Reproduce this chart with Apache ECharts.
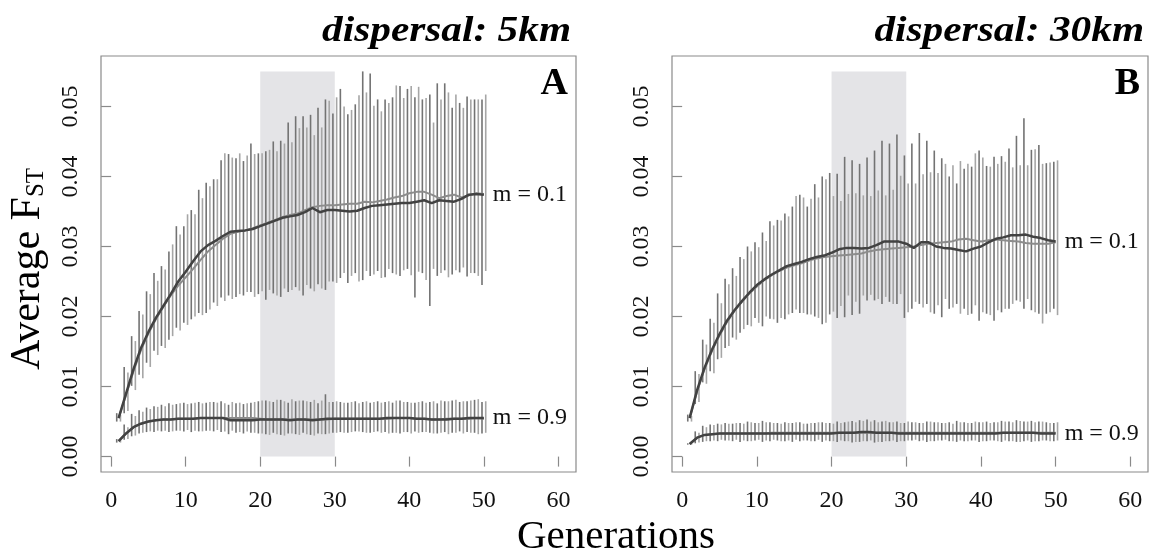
<!DOCTYPE html>
<html>
<head>
<meta charset="utf-8">
<script src="https://cdn.jsdelivr.net/npm/echarts@6/dist/echarts.min.js"></script>
<style>
  html, body { margin: 0; padding: 0; background: #ffffff; }
  #chart { width: 1150px; height: 558px; }
</style>
</head>
<body>
<div id="chart"></div>
<script>
// Generations simulated (x values)
const generations = [
  1,2,3,4,5,6,7,8,9,10,11,12,13,14,15,16,17,18,19,20,21,22,23,24,25,
  26,27,28,29,30,31,32,33,34,35,36,37,38,39,40,41,42,43,44,45,46,47,48,49,50
];

const xTicks = [0, 10, 20, 30, 40, 50, 60];
const yTicks = [0, 0.01, 0.02, 0.03, 0.04, 0.05];
const panelTitles = ['dispersal: 5km', 'dispersal: 30km'];
const panelLetters = ['A', 'B'];
const migrationLabels = ['m = 0.1', 'm = 0.9'];
const xAxisTitle = 'Generations';
// Highlighted window of generations
const shadeWindow = [20, 30, 0, 0.055];

// ---------- Panel A (dispersal 5 km) ----------
// m = 0.1, first run (dark)
const a01DarkMean = [
  0.0055,0.0090,0.0125,0.0155,0.0178,0.0198,0.0215,0.0232,0.0250,0.0264,
  0.0279,0.0293,0.0302,0.0308,0.0315,0.0321,0.0322,0.0323,0.0325,0.0329,
  0.0333,0.0337,0.0341,0.0343,0.0345,0.0349,0.0355,0.0349,0.0352,0.0352,
  0.0351,0.0350,0.0351,0.0355,0.0358,0.0359,0.0360,0.0361,0.0362,0.0362,
  0.0364,0.0366,0.0362,0.0366,0.0365,0.0364,0.0368,0.0374,0.0375,0.0374
];
const a01DarkHi = [
  0.0062,0.0128,0.0172,0.0208,0.0236,0.0262,0.0272,0.0293,0.0329,0.0329,
  0.0352,0.0381,0.0391,0.0396,0.0423,0.0432,0.0426,0.0422,0.0447,0.0433,
  0.0436,0.0450,0.0451,0.0477,0.0486,0.0486,0.0488,0.0498,0.0510,0.0490,
  0.0525,0.0489,0.0503,0.0550,0.0547,0.0510,0.0510,0.0513,0.0529,0.0525,
  0.0513,0.0510,0.0517,0.0533,0.0533,0.0498,0.0505,0.0514,0.0510,0.0510
];
const a01DarkLo = [
  0.0050,0.0062,0.0101,0.0117,0.0134,0.0151,0.0158,0.0167,0.0184,0.0191,
  0.0196,0.0205,0.0205,0.0220,0.0227,0.0230,0.0228,0.0230,0.0235,0.0232,
  0.0224,0.0233,0.0228,0.0235,0.0242,0.0230,0.0240,0.0246,0.0238,0.0250,
  0.0255,0.0248,0.0262,0.0252,0.0258,0.0265,0.0256,0.0262,0.0258,0.0268,
  0.0227,0.0262,0.0215,0.0258,0.0266,0.0260,0.0263,0.0257,0.0262,0.0245
];
// m = 0.1, second run (light)
const a01LightMean = [
  0.0055,0.0088,0.0122,0.0152,0.0176,0.0196,0.0214,0.0230,0.0244,0.0256,
  0.0268,0.0281,0.0293,0.0302,0.0311,0.0318,0.0321,0.0323,0.0326,0.0330,
  0.0334,0.0338,0.0342,0.0345,0.0347,0.0352,0.0356,0.0358,0.0359,0.0359,
  0.0360,0.0361,0.0361,0.0364,0.0363,0.0365,0.0367,0.0370,0.0372,0.0376,
  0.0378,0.0378,0.0374,0.0369,0.0372,0.0374,0.0370,0.0373,0.0376,0.0375
];
const a01LightHi = [
  0.0060,0.0120,0.0165,0.0203,0.0232,0.0251,0.0267,0.0303,0.0317,0.0346,
  0.0346,0.0369,0.0386,0.0396,0.0433,0.0427,0.0433,0.0430,0.0432,0.0433,
  0.0438,0.0436,0.0447,0.0449,0.0469,0.0470,0.0459,0.0470,0.0508,0.0513,
  0.0500,0.0495,0.0516,0.0520,0.0501,0.0493,0.0505,0.0530,0.0512,0.0529,
  0.0528,0.0512,0.0477,0.0510,0.0520,0.0517,0.0498,0.0510,0.0510,0.0517
];
const a01LightLo = [
  0.0050,0.0065,0.0095,0.0112,0.0128,0.0145,0.0155,0.0172,0.0180,0.0188,
  0.0200,0.0202,0.0210,0.0215,0.0222,0.0225,0.0232,0.0235,0.0228,0.0236,
  0.0238,0.0230,0.0240,0.0238,0.0237,0.0245,0.0236,0.0240,0.0250,0.0248,
  0.0262,0.0258,0.0250,0.0265,0.0260,0.0255,0.0268,0.0260,0.0266,0.0259,
  0.0264,0.0252,0.0268,0.0262,0.0256,0.0266,0.0270,0.0262,0.0258,0.0265
];
// m = 0.9, first run (dark)
const a09DarkMean = [
  0.0022,0.0033,0.0042,0.0047,0.0050,0.0052,0.0053,0.0053,0.0054,0.0054,
  0.0054,0.0055,0.0055,0.0055,0.0055,0.0052,0.0052,0.0052,0.0052,0.0053,
  0.0053,0.0053,0.0053,0.0052,0.0053,0.0053,0.0052,0.0053,0.0054,0.0054,
  0.0054,0.0054,0.0054,0.0054,0.0054,0.0054,0.0055,0.0055,0.0055,0.0055,
  0.0054,0.0054,0.0053,0.0053,0.0053,0.0054,0.0054,0.0055,0.0055,0.0055
];
const a09DarkHi = [
  0.0025,0.0046,0.0061,0.0066,0.0070,0.0072,0.0074,0.0076,0.0075,0.0077,
  0.0076,0.0078,0.0077,0.0078,0.0079,0.0074,0.0076,0.0075,0.0077,0.0079,
  0.0080,0.0078,0.0081,0.0077,0.0079,0.0080,0.0078,0.0076,0.0089,0.0078,
  0.0078,0.0077,0.0079,0.0078,0.0077,0.0079,0.0078,0.0077,0.0080,0.0078,
  0.0077,0.0079,0.0078,0.0076,0.0079,0.0080,0.0078,0.0079,0.0081,0.0078
];
const a09DarkLo = [
  0.0020,0.0024,0.0029,0.0033,0.0035,0.0035,0.0036,0.0035,0.0037,0.0036,
  0.0035,0.0036,0.0037,0.0036,0.0035,0.0032,0.0034,0.0033,0.0034,0.0033,
  0.0032,0.0034,0.0031,0.0033,0.0032,0.0034,0.0031,0.0033,0.0032,0.0034,
  0.0035,0.0034,0.0036,0.0035,0.0034,0.0036,0.0035,0.0034,0.0033,0.0035,
  0.0036,0.0035,0.0034,0.0033,0.0035,0.0034,0.0036,0.0035,0.0034,0.0033
];
// m = 0.9, second run (light)
const a09LightMean = [
  0.0022,0.0033,0.0042,0.0047,0.0050,0.0052,0.0053,0.0053,0.0054,0.0054,
  0.0054,0.0055,0.0055,0.0055,0.0055,0.0055,0.0055,0.0055,0.0055,0.0054,
  0.0053,0.0053,0.0053,0.0053,0.0053,0.0053,0.0053,0.0053,0.0053,0.0054,
  0.0054,0.0054,0.0054,0.0054,0.0054,0.0054,0.0054,0.0055,0.0055,0.0055,
  0.0054,0.0054,0.0053,0.0053,0.0054,0.0054,0.0054,0.0054,0.0055,0.0054
];
const a09LightHi = [
  0.0024,0.0042,0.0058,0.0064,0.0068,0.0071,0.0072,0.0074,0.0076,0.0075,
  0.0077,0.0076,0.0078,0.0077,0.0076,0.0078,0.0077,0.0076,0.0078,0.0080,
  0.0079,0.0081,0.0079,0.0082,0.0080,0.0079,0.0081,0.0080,0.0078,0.0079,
  0.0077,0.0078,0.0076,0.0079,0.0078,0.0077,0.0079,0.0080,0.0078,0.0077,
  0.0078,0.0077,0.0079,0.0080,0.0079,0.0081,0.0079,0.0080,0.0082,0.0079
];
const a09LightLo = [
  0.0020,0.0025,0.0030,0.0034,0.0036,0.0037,0.0037,0.0036,0.0037,0.0038,
  0.0037,0.0036,0.0037,0.0038,0.0036,0.0037,0.0035,0.0036,0.0034,0.0033,
  0.0031,0.0032,0.0030,0.0033,0.0031,0.0032,0.0030,0.0032,0.0033,0.0034,
  0.0034,0.0035,0.0036,0.0034,0.0035,0.0034,0.0033,0.0034,0.0035,0.0033,
  0.0034,0.0035,0.0033,0.0034,0.0032,0.0034,0.0033,0.0034,0.0032,0.0034
];

// ---------- Panel B (dispersal 30 km) ----------
const b01DarkMean = [
  0.0055,0.0095,0.0127,0.0153,0.0175,0.0194,0.0209,0.0222,0.0234,0.0245,
  0.0253,0.0260,0.0266,0.0272,0.0275,0.0278,0.0282,0.0285,0.0287,0.0291,
  0.0296,0.0298,0.0298,0.0297,0.0298,0.0302,0.0307,0.0307,0.0307,0.0304,
  0.0298,0.0306,0.0306,0.0300,0.0298,0.0297,0.0295,0.0293,0.0297,0.0300,
  0.0306,0.0311,0.0313,0.0316,0.0316,0.0317,0.0314,0.0312,0.0309,0.0307
];
const b01DarkHi = [
  0.0060,0.0122,0.0167,0.0197,0.0233,0.0254,0.0269,0.0285,0.0300,0.0306,
  0.0320,0.0336,0.0338,0.0347,0.0357,0.0374,0.0357,0.0389,0.0400,0.0405,
  0.0404,0.0428,0.0423,0.0418,0.0427,0.0437,0.0451,0.0447,0.0460,0.0430,
  0.0447,0.0462,0.0451,0.0437,0.0426,0.0400,0.0390,0.0411,0.0414,0.0437,
  0.0415,0.0428,0.0429,0.0440,0.0458,0.0483,0.0438,0.0445,0.0419,0.0421
];
const b01DarkLo = [
  0.0050,0.0075,0.0106,0.0122,0.0139,0.0155,0.0170,0.0177,0.0188,0.0198,
  0.0186,0.0197,0.0191,0.0196,0.0205,0.0205,0.0203,0.0200,0.0189,0.0203,
  0.0198,0.0199,0.0202,0.0204,0.0223,0.0223,0.0218,0.0221,0.0218,0.0198,
  0.0211,0.0218,0.0218,0.0204,0.0199,0.0211,0.0218,0.0211,0.0204,0.0194,
  0.0204,0.0194,0.0206,0.0211,0.0223,0.0211,0.0209,0.0204,0.0204,0.0211
];
const b01LightMean = [
  0.0055,0.0093,0.0125,0.0151,0.0173,0.0192,0.0208,0.0221,0.0233,0.0243,
  0.0252,0.0259,0.0265,0.0270,0.0273,0.0276,0.0280,0.0283,0.0285,0.0286,
  0.0287,0.0288,0.0289,0.0290,0.0293,0.0295,0.0296,0.0297,0.0298,0.0299,
  0.0300,0.0302,0.0304,0.0305,0.0306,0.0307,0.0310,0.0311,0.0309,0.0307,
  0.0309,0.0310,0.0309,0.0308,0.0307,0.0305,0.0304,0.0304,0.0304,0.0306
];
const b01LightHi = [
  0.0058,0.0118,0.0160,0.0191,0.0219,0.0246,0.0258,0.0282,0.0293,0.0299,
  0.0308,0.0330,0.0337,0.0343,0.0372,0.0370,0.0368,0.0370,0.0396,0.0372,
  0.0365,0.0375,0.0376,0.0373,0.0372,0.0380,0.0373,0.0381,0.0401,0.0390,
  0.0390,0.0403,0.0406,0.0405,0.0418,0.0416,0.0422,0.0418,0.0433,0.0427,
  0.0414,0.0418,0.0421,0.0413,0.0416,0.0416,0.0439,0.0418,0.0420,0.0423
];
const b01LightLo = [
  0.0050,0.0078,0.0104,0.0119,0.0141,0.0158,0.0167,0.0182,0.0186,0.0191,
  0.0200,0.0196,0.0198,0.0203,0.0210,0.0205,0.0203,0.0198,0.0191,0.0207,
  0.0215,0.0230,0.0221,0.0230,0.0231,0.0225,0.0228,0.0218,0.0232,0.0206,
  0.0221,0.0213,0.0206,0.0216,0.0225,0.0213,0.0204,0.0202,0.0216,0.0206,
  0.0202,0.0209,0.0211,0.0218,0.0221,0.0225,0.0206,0.0190,0.0206,0.0202
];
const b09DarkMean = [
  0.0018,0.0027,0.0031,0.0032,0.0033,0.0033,0.0033,0.0033,0.0033,0.0033,
  0.0033,0.0033,0.0033,0.0033,0.0033,0.0033,0.0033,0.0033,0.0033,0.0033,
  0.0034,0.0034,0.0034,0.0035,0.0035,0.0034,0.0034,0.0034,0.0033,0.0033,
  0.0033,0.0033,0.0033,0.0033,0.0033,0.0033,0.0033,0.0033,0.0033,0.0033,
  0.0033,0.0033,0.0034,0.0034,0.0034,0.0034,0.0034,0.0033,0.0033,0.0033
];
const b09DarkHi = [
  0.0019,0.0036,0.0044,0.0046,0.0047,0.0048,0.0047,0.0048,0.0050,0.0048,
  0.0051,0.0049,0.0048,0.0049,0.0048,0.0049,0.0047,0.0048,0.0049,0.0048,
  0.0050,0.0049,0.0051,0.0052,0.0053,0.0052,0.0050,0.0049,0.0050,0.0048,
  0.0049,0.0048,0.0050,0.0049,0.0048,0.0049,0.0051,0.0049,0.0048,0.0049,
  0.0050,0.0049,0.0051,0.0050,0.0052,0.0050,0.0051,0.0050,0.0049,0.0048
];
const b09DarkLo = [
  0.0017,0.0019,0.0021,0.0022,0.0022,0.0023,0.0022,0.0021,0.0022,0.0023,
  0.0021,0.0022,0.0023,0.0022,0.0021,0.0022,0.0023,0.0022,0.0021,0.0022,
  0.0021,0.0022,0.0020,0.0021,0.0022,0.0020,0.0021,0.0022,0.0021,0.0022,
  0.0023,0.0022,0.0021,0.0022,0.0023,0.0022,0.0021,0.0022,0.0023,0.0021,
  0.0022,0.0023,0.0021,0.0022,0.0021,0.0022,0.0021,0.0022,0.0023,0.0022
];
const b09LightMean = [
  0.0018,0.0027,0.0031,0.0032,0.0033,0.0033,0.0033,0.0033,0.0033,0.0033,
  0.0033,0.0034,0.0034,0.0034,0.0034,0.0034,0.0034,0.0034,0.0034,0.0034,
  0.0034,0.0034,0.0034,0.0034,0.0034,0.0034,0.0034,0.0034,0.0034,0.0034,
  0.0034,0.0034,0.0034,0.0034,0.0034,0.0034,0.0034,0.0034,0.0034,0.0034,
  0.0034,0.0034,0.0034,0.0034,0.0034,0.0034,0.0034,0.0034,0.0034,0.0034
];
const b09LightHi = [
  0.0019,0.0034,0.0042,0.0045,0.0046,0.0047,0.0048,0.0047,0.0049,0.0048,
  0.0049,0.0048,0.0047,0.0048,0.0049,0.0047,0.0048,0.0049,0.0048,0.0047,
  0.0048,0.0050,0.0049,0.0051,0.0050,0.0049,0.0051,0.0049,0.0048,0.0050,
  0.0049,0.0048,0.0050,0.0049,0.0048,0.0047,0.0049,0.0048,0.0050,0.0049,
  0.0048,0.0049,0.0050,0.0049,0.0051,0.0050,0.0049,0.0050,0.0048,0.0049
];
const b09LightLo = [
  0.0017,0.0020,0.0022,0.0023,0.0024,0.0023,0.0024,0.0023,0.0022,0.0024,
  0.0023,0.0024,0.0022,0.0023,0.0024,0.0023,0.0022,0.0024,0.0023,0.0022,
  0.0023,0.0022,0.0021,0.0022,0.0023,0.0021,0.0022,0.0023,0.0022,0.0023,
  0.0024,0.0023,0.0022,0.0023,0.0024,0.0022,0.0023,0.0022,0.0023,0.0022,
  0.0023,0.0022,0.0023,0.0022,0.0021,0.0023,0.0022,0.0023,0.0022,0.0023
];

const SERIF = '"Liberation Serif", "Times New Roman", serif';
const BOX = '#8a8a8a';
const BAR_DARK = '#737373';
const BAR_LIGHT = '#a6a6a6';
const LINE_DARK = '#424242';
const LINE_LIGHT = '#8c8c8c';

// Error bars as thin vertical segments; each run sits a quarter generation off its generation
function errorBars(panel, lo, hi, shift, color) {
  return {
    type: 'custom', xAxisIndex: panel, yAxisIndex: panel, z: 3,
    silent: true, animation: false, clip: true,
    data: generations.map((g, i) => [g + shift, lo[i], hi[i]]),
    encode: { x: 0, y: [1, 2] },
    renderItem: (params, api) => {
      const p1 = api.coord([api.value(0), api.value(1)]);
      const p2 = api.coord([api.value(0), api.value(2)]);
      return {
        type: 'line',
        shape: { x1: p1[0], y1: p1[1], x2: p2[0], y2: p2[1] },
        style: { stroke: color, lineWidth: 1.6 }
      };
    }
  };
}

function meanLine(panel, mean, color, width, z, label) {
  const s = {
    type: 'line', xAxisIndex: panel, yAxisIndex: panel, z: z,
    silent: true, animation: false, showSymbol: false, symbol: 'none',
    data: generations.map((g, i) => [g, mean[i]]),
    lineStyle: { color: color, width: width }
  };
  if (label) {
    s.endLabel = {
      show: true, formatter: label, distance: 9,
      fontFamily: SERIF, fontSize: 24, color: '#111111'
    };
  }
  return s;
}

function shadeSeries(panel) {
  return {
    type: 'custom', xAxisIndex: panel, yAxisIndex: panel, z: 1,
    silent: true, animation: false,
    data: [shadeWindow],
    renderItem: (params, api) => {
      const tl = api.coord([api.value(0), api.value(3)]);
      const br = api.coord([api.value(1), api.value(2)]);
      return {
        type: 'rect',
        shape: { x: tl[0], y: tl[1], width: br[0] - tl[0], height: br[1] - tl[1] },
        style: { fill: '#e4e4e7' }
      };
    }
  };
}

function xAxisDef(panel) {
  return {
    type: 'value', gridIndex: panel, min: -1.36, max: 62.36,
    axisLine: { show: false },
    splitLine: { show: false },
    axisTick: { show: true, length: 10, customValues: xTicks, lineStyle: { color: BOX, width: 1.2 } },
    axisLabel: { customValues: xTicks, margin: 17, fontFamily: SERIF, fontSize: 24, color: '#111111' }
  };
}

function yAxisDef(panel) {
  return {
    type: 'value', gridIndex: panel, min: -0.0022, max: 0.0572,
    axisLine: { show: false },
    splitLine: { show: false },
    axisTick: { show: true, length: 10, customValues: yTicks, lineStyle: { color: BOX, width: 1.2 } },
    axisLabel: {
      customValues: yTicks, rotate: 90, margin: 18,
      fontFamily: SERIF, fontSize: 24, color: '#111111',
      formatter: (v) => v.toFixed(2)
    }
  };
}

const chart = echarts.init(document.getElementById('chart'), null, { renderer: 'canvas' });

const series = [];
const panels = [
  [a01DarkMean, a01DarkLo, a01DarkHi, a01LightMean, a01LightLo, a01LightHi,
   a09DarkMean, a09DarkLo, a09DarkHi, a09LightMean, a09LightLo, a09LightHi],
  [b01DarkMean, b01DarkLo, b01DarkHi, b01LightMean, b01LightLo, b01LightHi,
   b09DarkMean, b09DarkLo, b09DarkHi, b09LightMean, b09LightLo, b09LightHi]
];
panels.forEach((d, p) => {
  series.push(shadeSeries(p));
  series.push(errorBars(p, d[1], d[2], -0.25, BAR_DARK));
  series.push(errorBars(p, d[4], d[5], 0.25, BAR_LIGHT));
  series.push(errorBars(p, d[7], d[8], -0.25, BAR_DARK));
  series.push(errorBars(p, d[10], d[11], 0.25, BAR_LIGHT));
  series.push(meanLine(p, d[3], LINE_LIGHT, 2, 5, null));
  series.push(meanLine(p, d[9], LINE_LIGHT, 2, 5, null));
  series.push(meanLine(p, d[0], LINE_DARK, 2.5, 6, migrationLabels[0]));
  series.push(meanLine(p, d[6], LINE_DARK, 2.5, 6, migrationLabels[1]));
});

const titleStyle = {
  fontFamily: SERIF, fontStyle: 'italic', fontWeight: 'bold', fontSize: 35,
  fill: '#000', align: 'right', verticalAlign: 'middle'
};
const letterStyle = {
  fontFamily: SERIF, fontWeight: 'bold', fontSize: 38,
  fill: '#000', align: 'right', verticalAlign: 'middle'
};

const option = {
  animation: false,
  backgroundColor: '#ffffff',
  grid: [
    { left: 101, top: 56, width: 475, height: 416, show: true, borderColor: BOX, borderWidth: 1.2, backgroundColor: 'transparent' },
    { left: 672, top: 56, width: 476, height: 416, show: true, borderColor: BOX, borderWidth: 1.2, backgroundColor: 'transparent' }
  ],
  xAxis: [xAxisDef(0), xAxisDef(1)],
  yAxis: [yAxisDef(0), yAxisDef(1)],
  series: series,
  graphic: [
    { type: 'text', x: 571, y: 32, scaleX: 1.18, silent: true,
      style: Object.assign({ text: panelTitles[0] }, titleStyle) },
    { type: 'text', x: 1144, y: 32, scaleX: 1.18, silent: true,
      style: Object.assign({ text: panelTitles[1] }, titleStyle) },
    { type: 'text', x: 568, y: 84, silent: true,
      style: Object.assign({ text: panelLetters[0] }, letterStyle) },
    { type: 'text', x: 1140, y: 84, silent: true,
      style: Object.assign({ text: panelLetters[1] }, letterStyle) },
    { type: 'text', x: 616, y: 537, silent: true,
      style: { text: xAxisTitle, fontFamily: SERIF, fontSize: 41, fill: '#000', align: 'center', verticalAlign: 'middle' } },
    {
      type: 'text', x: 28, y: 269, rotation: Math.PI / 2, silent: true,
      style: {
        text: '{a|Average F}{b|ST}',
        align: 'center', verticalAlign: 'middle',
        rich: {
          a: { fontFamily: SERIF, fontSize: 42, fill: '#000', verticalAlign: 'bottom', lineHeight: 42 },
          b: { fontFamily: SERIF, fontSize: 25, fill: '#000', verticalAlign: 'bottom', lineHeight: 42 }
        }
      }
    }
  ]
};

chart.setOption(option);
</script>
</body>
</html>
